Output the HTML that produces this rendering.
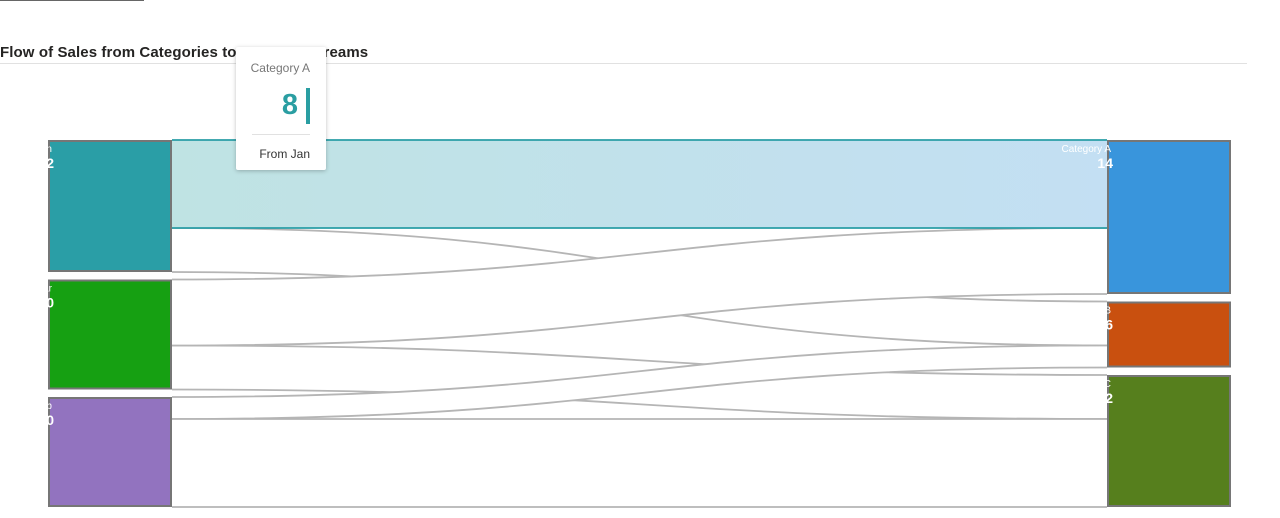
<!DOCTYPE html>
<html><head><meta charset="utf-8"><style>
body{margin:0;width:1280px;height:518px;background:#fff;overflow:hidden;font-family:"Liberation Sans","DejaVu Sans",sans-serif;position:relative}
#topline{position:absolute;left:0;top:0;width:144px;height:1px;background:#666}
#title{position:absolute;left:0;top:44px;font-size:15px;font-weight:bold;color:#252423;letter-spacing:0.1px}
#rule{position:absolute;left:0;top:63px;width:1247px;height:1px;background:#e1e1e1}
#tip{position:absolute;left:236px;top:47px;width:90px;height:123px;background:#fff;box-shadow:0 1px 4px rgba(0,0,0,.25);border-radius:2px}
#tip .cat{position:absolute;right:16px;top:14px;font-size:12px;color:#777}
#tip .val{position:absolute;right:28px;top:42px;font-size:29px;font-weight:bold;color:#2a9ea2}
#tip .bar{position:absolute;right:16px;top:41px;width:4px;height:36px;background:#2a9ea2}
#tip .sep{position:absolute;left:16px;right:16px;top:87px;height:1px;background:#e1e1e1}
#tip .from{position:absolute;right:16px;top:100px;font-size:12px;color:#333}
svg{position:absolute;left:0;top:0}
</style></head><body>
<div id="topline"></div>
<div id="title">Flow of Sales from Categories to Revenue Streams</div>
<div id="rule"></div>
<svg id="chart" width="1280" height="518">
<defs>
<linearGradient id="hl" x1="0" x2="1" y1="0" y2="0"><stop offset="0" stop-color="#bfe3e3"/><stop offset="1" stop-color="#c3dff3"/></linearGradient>
<clipPath id="clip"><rect x="47" y="0" width="1233" height="518"/></clipPath>
</defs>
<g id="links"></g><g id="nodes" clip-path="url(#clip)"></g>
</svg>
<div id="tip">
<div class="cat">Category A</div>
<div class="val">8</div>
<div class="bar"></div>
<div class="sep"></div>
<div class="from">From Jan</div>
</div>
<script>
const sources=["Jan","Mar","Feb"];
const targets=["Category A","B","C"];
const linkSrc=["Jan","Jan","Mar","Mar","Feb","Feb"];
const linkTgt=["Category A","B","Category A","C","B","C"];
const linkVal=[8,4,6,4,2,8];
const srcColors=["#2a9ea6","#16a012","#9273bf"];
const tgtColors=["#3995dc","#c9500f","#567f1d"];
const drawOrder=[1,3,2,4,5,0];
const NS="http://www.w3.org/2000/svg";
const top0=140,bottom0=507,gap=7.5,nodeW=124,xL=48,xR=1107;
const total=linkVal.reduce((a,b)=>a+b,0);
const k=(bottom0-top0-2*gap)/total;
function sum(names,key){return names.map(n=>linkVal.reduce((s,v,i)=>s+((key==0?linkSrc[i]:linkTgt[i])==n?v:0),0));}
const sv=sum(sources,0),tv=sum(targets,1);
function layout(vals){let y=top0;return vals.map(v=>{const r=[y,y+v*k];y+=v*k+gap;return r;});}
const sPos=layout(sv),tPos=layout(tv);
const sOff=sPos.map(p=>p[0]),tOff=tPos.map(p=>p[0]);
const geo=linkVal.map((v,i)=>{
 const si=sources.indexOf(linkSrc[i]),ti=targets.indexOf(linkTgt[i]);
 const h=v*k,y0=sOff[si],y1=tOff[ti];sOff[si]+=h;tOff[ti]+=h;
 return {h,y0,y1};
});
const links=document.getElementById('links'),nodes=document.getElementById('nodes');
drawOrder.forEach(i=>{
 const {h,y0,y1}=geo[i];
 const x0=xL+nodeW,x1=xR,mx=(x0+x1)/2;
 const hl=i==0;
 const g=document.createElementNS(NS,'g');
 
 
 const p=document.createElementNS(NS,'path');
 p.setAttribute('d',`M${x0},${y0}C${mx},${y0} ${mx},${y1} ${x1},${y1}L${x1},${y1+h}C${mx},${y1+h} ${mx},${y0+h} ${x0},${y0+h}Z`);
 p.setAttribute('fill',hl?'url(#hl)':'#fff');
 g.appendChild(p);
 [y0,y0+h].forEach((a,j)=>{const b=j?y1+h:y1;
  const e=document.createElementNS(NS,'path');
  e.setAttribute('d',`M${x0},${a}C${mx},${a} ${mx},${b} ${x1},${b}`);
  e.setAttribute('fill','none');e.setAttribute('stroke',hl?'#2a9ea6':'#b5b5b5');e.setAttribute('stroke-width','1.8');
  g.appendChild(e);});
 links.appendChild(g);
});
function drawNode(name,val,pos,x,color){
 const r=document.createElementNS(NS,'rect');
 r.setAttribute('x',x+1);r.setAttribute('y',pos[0]+1);r.setAttribute('width',nodeW-2);r.setAttribute('height',pos[1]-pos[0]-2);
 r.setAttribute('fill',color);r.setAttribute('stroke','#767676');r.setAttribute('stroke-width','2');
 
 
 nodes.appendChild(r);
 const t1=document.createElementNS(NS,'text');
 t1.setAttribute('x',x+4);t1.setAttribute('y',pos[0]+12);t1.setAttribute('text-anchor','end');
 t1.setAttribute('font-size','10');t1.setAttribute('fill','#fff');t1.textContent=name;
 
 
 nodes.appendChild(t1);
 const t2=document.createElementNS(NS,'text');
 t2.setAttribute('x',x+6);t2.setAttribute('y',pos[0]+28);t2.setAttribute('text-anchor','end');
 t2.setAttribute('font-size','14');t2.setAttribute('font-weight','bold');t2.setAttribute('fill','#fff');t2.textContent=val;
 
 
 nodes.appendChild(t2);
}
sources.forEach((n,i)=>drawNode(n,sv[i],sPos[i],xL,srcColors[i]));
targets.forEach((n,i)=>drawNode(n,tv[i],tPos[i],xR,tgtColors[i]));
</script>
</body></html>
